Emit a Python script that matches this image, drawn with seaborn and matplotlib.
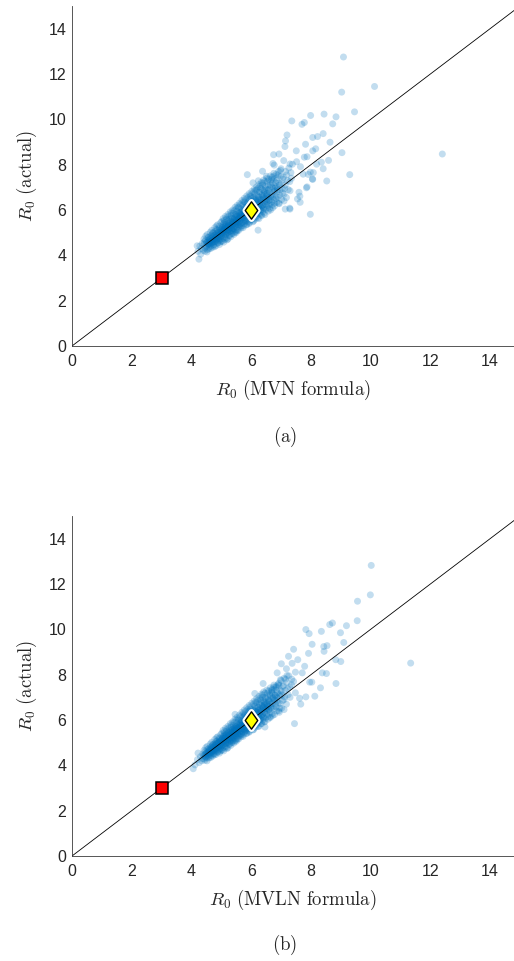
import numpy as np
import pandas as pd
import matplotlib.pyplot as plt
from matplotlib.path import Path
import seaborn as sns

sns.set_style("white")
plt.rcParams['font.family'] = ['Liberation Sans', 'DejaVu Sans']
plt.rcParams['mathtext.fontset'] = 'cm'

# ---- data ----------------------------------------------------------------
# (a) R0 from the MVN formula vs actual R0: dense core of the cloud
mvn_core = [
    (4.22, 4.18), (4.28, 4.41), (4.33, 4.30), (4.36, 4.52), (4.39, 4.22), (4.31, 4.05),
    (4.42, 4.48), (4.45, 4.31), (4.47, 4.66), (4.49, 4.40), (4.52, 4.58), (4.53, 4.25),
    (4.55, 4.79), (4.57, 4.47), (4.58, 4.62), (4.60, 4.36), (4.44, 4.60), (4.56, 4.52),
    (4.61, 4.70), (4.62, 4.50), (4.64, 4.85), (4.65, 4.41), (4.67, 4.63), (4.68, 4.76),
    (4.70, 4.55), (4.71, 4.98), (4.72, 4.68), (4.74, 4.45), (4.75, 4.82), (4.76, 4.60),
    (4.78, 4.72), (4.79, 5.05), (4.63, 4.58), (4.69, 4.90), (4.77, 4.38),
    (4.81, 4.80), (4.82, 4.62), (4.83, 4.95), (4.85, 4.71), (4.86, 5.12), (4.87, 4.54),
    (4.88, 4.88), (4.90, 4.77), (4.91, 5.02), (4.92, 4.66), (4.94, 5.20), (4.95, 4.90),
    (4.96, 4.58), (4.98, 5.08), (4.99, 4.83), (4.84, 5.30), (4.89, 4.99), (4.97, 4.72),
    (5.01, 5.15), (5.02, 4.86), (5.03, 4.99), (5.05, 5.32), (5.06, 4.74), (5.07, 5.08),
    (5.09, 4.93), (5.10, 5.45), (5.11, 5.21), (5.12, 4.80), (5.14, 5.03), (5.15, 5.28),
    (5.16, 4.95), (5.17, 5.58), (5.18, 5.12), (5.19, 4.68), (5.04, 5.22), (5.08, 5.11),
    (5.13, 5.36), (5.20, 5.00),
    (5.21, 5.25), (5.22, 4.98), (5.23, 5.42), (5.25, 5.13), (5.26, 5.60), (5.27, 4.86),
    (5.28, 5.31), (5.30, 5.05), (5.31, 5.50), (5.32, 5.20), (5.33, 5.75), (5.34, 4.95),
    (5.35, 5.38), (5.36, 5.16), (5.37, 5.63), (5.38, 5.29), (5.39, 5.08), (5.24, 5.34),
    (5.29, 5.22), (5.36, 5.47), (5.40, 5.85),
    (5.41, 5.48), (5.42, 5.15), (5.43, 5.66), (5.45, 5.33), (5.46, 5.02), (5.47, 5.80),
    (5.48, 5.41), (5.50, 5.58), (5.51, 5.24), (5.52, 5.95), (5.53, 5.50), (5.54, 5.10),
    (5.55, 5.70), (5.56, 5.36), (5.57, 5.62), (5.58, 6.10), (5.59, 5.28), (5.44, 5.55),
    (5.49, 5.72), (5.55, 5.45), (5.60, 5.85),
    (5.61, 5.70), (5.62, 5.35), (5.63, 5.92), (5.65, 5.55), (5.66, 5.20), (5.67, 6.05),
    (5.68, 5.63), (5.70, 5.80), (5.71, 5.45), (5.72, 6.22), (5.73, 5.72), (5.74, 5.30),
    (5.75, 5.95), (5.76, 5.58), (5.77, 5.85), (5.78, 6.35), (5.79, 5.50), (5.64, 5.78),
    (5.69, 5.95), (5.75, 5.65), (5.80, 6.08),
    (5.81, 5.90), (5.82, 5.52), (5.83, 6.15), (5.85, 5.75), (5.86, 5.36), (5.87, 6.30),
    (5.88, 5.85), (5.90, 6.02), (5.91, 5.62), (5.92, 6.45), (5.93, 5.95), (5.94, 5.45),
    (5.95, 6.20), (5.96, 5.78), (5.97, 6.08), (5.98, 6.60), (5.99, 5.70), (5.84, 6.00),
    (5.89, 6.18), (5.95, 5.88),
    (6.01, 6.12), (6.02, 5.70), (6.03, 6.38), (6.05, 5.92), (6.06, 5.48), (6.07, 6.55),
    (6.08, 6.05), (6.10, 6.25), (6.11, 5.80), (6.12, 6.72), (6.13, 6.15), (6.14, 5.60),
    (6.15, 6.42), (6.16, 5.98), (6.17, 6.30), (6.18, 6.88), (6.19, 5.88), (6.04, 6.22),
    (6.09, 6.45), (6.20, 6.10),
    (6.21, 6.35), (6.22, 5.85), (6.23, 6.60), (6.25, 6.12), (6.26, 5.62), (6.27, 6.78),
    (6.28, 6.28), (6.30, 6.48), (6.31, 6.00), (6.32, 6.95), (6.33, 6.38), (6.35, 5.75),
    (6.36, 6.65), (6.37, 6.20), (6.38, 7.10), (6.39, 6.52), (6.24, 6.45), (6.34, 6.10),
    (6.41, 6.58), (6.42, 6.05), (6.43, 6.85), (6.45, 6.35), (6.46, 5.80), (6.48, 7.05),
    (6.49, 6.50), (6.51, 6.72), (6.52, 6.20), (6.54, 7.25), (6.55, 6.62), (6.57, 5.95),
    (6.58, 6.90), (6.59, 6.42), (6.44, 6.68), (6.53, 6.48),
    (6.61, 6.80), (6.63, 6.25), (6.64, 7.10), (6.66, 6.55), (6.68, 7.35), (6.70, 6.70),
    (6.72, 6.10), (6.73, 6.95), (6.75, 7.50), (6.77, 6.45), (6.79, 6.85), (6.65, 6.00),
    (6.71, 7.20),
    (6.81, 7.05), (6.83, 6.50), (6.85, 7.30), (6.87, 6.80), (6.90, 7.55), (6.92, 6.30),
    (6.94, 7.10), (6.96, 6.65), (6.98, 7.75), (6.86, 7.00),
    (7.02, 7.20), (7.05, 6.75), (7.08, 7.45), (7.12, 6.95), (7.15, 7.70), (7.18, 6.55),
    (7.22, 7.30), (7.26, 7.85), (7.30, 6.85), (7.35, 7.40),
]
# (a) further core points where the cloud is saturated
mvn_core_dense = [
    (4.50, 4.55), (4.53, 4.44), (4.56, 4.66), (4.58, 4.52), (4.61, 4.60), (4.63, 4.74),
    (4.66, 4.54), (4.68, 4.66), (4.70, 4.82), (4.72, 4.58), (4.74, 4.70), (4.76, 4.88),
    (4.78, 4.62), (4.80, 4.76), (4.82, 4.90), (4.84, 4.70), (4.86, 4.84), (4.88, 5.02),
    (4.90, 4.72), (4.92, 4.86), (4.94, 5.00), (4.96, 4.80), (4.98, 4.96), (4.99, 5.14),
    (5.01, 4.90), (5.02, 5.06), (5.04, 5.24), (5.05, 4.98), (5.07, 5.16), (5.08, 5.40),
    (5.10, 5.02), (5.11, 5.12), (5.13, 5.28), (5.14, 4.90), (5.16, 5.18), (5.17, 5.36),
    (5.19, 5.08), (5.20, 5.26), (5.22, 5.50), (5.23, 5.14), (5.25, 5.30), (5.26, 5.06),
    (5.28, 5.44), (5.29, 5.20), (5.31, 5.34), (5.32, 5.62), (5.34, 5.26), (5.35, 5.10),
    (5.37, 5.46), (5.38, 5.36), (5.40, 5.20), (5.41, 5.58), (5.43, 5.40), (5.44, 5.26),
    (5.46, 5.66), (5.47, 5.48), (5.49, 5.34), (5.50, 5.80),
    (5.51, 5.52), (5.52, 5.38), (5.54, 5.74), (5.55, 5.58), (5.57, 5.44), (5.58, 5.88),
    (5.60, 5.62), (5.61, 5.50), (5.63, 5.80), (5.64, 5.66), (5.66, 5.40), (5.67, 5.90),
    (5.69, 5.72), (5.70, 5.58), (5.72, 6.00), (5.73, 5.82), (5.75, 5.50), (5.76, 6.12),
    (5.78, 5.76), (5.79, 5.96), (5.81, 5.64), (5.82, 6.06), (5.84, 5.84), (5.85, 6.26),
    (5.87, 5.70), (5.88, 6.02), (5.90, 5.86), (5.91, 6.36), (5.93, 5.76), (5.94, 6.10),
    (5.96, 5.94), (5.97, 6.28), (5.99, 5.84), (6.00, 6.50),
    (6.01, 5.98), (6.02, 6.30), (6.04, 5.82), (6.05, 6.14), (6.07, 6.40), (6.08, 5.92),
    (6.10, 6.08), (6.11, 6.58), (6.13, 6.00), (6.14, 6.28), (6.16, 6.48), (6.17, 5.86),
    (6.19, 6.20), (6.20, 6.66), (6.22, 6.10), (6.23, 6.36), (6.25, 5.96), (6.26, 6.56),
    (6.28, 6.22), (6.29, 6.80), (6.31, 6.14), (6.32, 6.44), (6.34, 6.00), (6.35, 6.68),
    (6.37, 6.32), (6.38, 6.90), (6.40, 6.22), (6.41, 6.48), (6.43, 6.10), (6.44, 6.78),
    (6.46, 6.40), (6.47, 6.96), (6.49, 6.24), (6.50, 6.62),
    (6.52, 6.88), (6.53, 6.36), (6.55, 6.74), (6.57, 7.10), (6.58, 6.26), (6.60, 6.56),
    (6.62, 6.96), (6.63, 6.44), (6.65, 7.24), (6.67, 6.66), (6.69, 6.36), (6.70, 7.02),
    (6.72, 6.58), (6.74, 7.34), (6.76, 6.80), (6.78, 6.30), (6.80, 6.96), (6.82, 7.20),
    (6.84, 6.62), (6.86, 7.42), (6.88, 6.90), (6.90, 6.56), (6.93, 7.18), (6.96, 6.90),
    (6.99, 7.50),
    (7.03, 6.95), (7.06, 7.35), (7.10, 6.70), (7.14, 7.10), (7.19, 7.55), (7.24, 6.90),
    (7.29, 7.25), (7.33, 7.65),
]
# (a) points along the upper and lower rims of the core
mvn_core_edge = [
    (4.42, 4.72), (4.48, 4.85), (4.53, 4.92), (4.58, 4.80), (4.63, 5.02), (4.68, 5.10),
    (4.73, 5.00), (4.78, 5.22), (4.83, 5.15), (4.88, 5.35), (4.93, 5.28), (4.98, 5.45),
    (4.45, 4.18), (4.52, 4.15), (4.58, 4.28), (4.64, 4.30), (4.70, 4.35), (4.76, 4.48),
    (4.82, 4.42), (4.88, 4.55), (4.94, 4.48), (4.99, 4.62),
    (5.02, 5.50), (5.06, 5.62), (5.10, 5.55), (5.14, 5.72), (5.18, 5.66), (5.22, 5.80),
    (5.26, 5.74), (5.30, 5.92), (5.34, 5.86), (5.38, 6.00), (5.42, 5.96), (5.46, 6.12),
    (5.50, 6.05),
    (5.03, 4.62), (5.08, 4.58), (5.12, 4.70), (5.17, 4.76), (5.22, 4.72), (5.27, 4.88),
    (5.32, 4.82), (5.37, 4.96), (5.42, 4.92), (5.47, 5.06), (5.50, 5.00),
    (5.53, 6.20), (5.57, 6.14), (5.61, 6.30), (5.65, 6.25), (5.69, 6.42), (5.73, 6.36),
    (5.77, 6.52), (5.81, 6.46), (5.85, 6.62), (5.89, 6.55), (5.93, 6.72), (5.97, 6.66),
    (5.53, 5.14), (5.58, 5.10), (5.63, 5.24), (5.68, 5.30), (5.73, 5.22), (5.78, 5.40),
    (5.83, 5.34), (5.88, 5.48), (5.93, 5.40), (5.98, 5.56),
    (6.02, 6.82), (6.06, 6.76), (6.10, 6.92), (6.14, 6.86), (6.18, 7.02), (6.22, 6.96),
    (6.26, 7.12), (6.30, 7.05), (6.34, 7.22), (6.38, 7.18), (6.42, 7.32), (6.46, 7.26),
    (6.03, 5.58), (6.08, 5.52), (6.13, 5.68), (6.18, 5.74), (6.23, 5.66), (6.28, 5.84),
    (6.33, 5.78), (6.38, 5.92), (6.43, 5.86), (6.48, 6.02),
    (6.52, 7.40), (6.58, 7.36), (6.64, 7.50), (6.70, 7.44), (6.76, 7.62), (6.84, 7.58),
    (6.92, 7.70), (7.00, 7.82),
    (6.55, 6.10), (6.62, 6.06), (6.70, 6.22), (6.78, 6.18), (6.86, 6.34), (6.94, 6.28),
    (7.02, 6.46), (7.10, 6.40),
]
# (a) scattered points away from the core
mvn_sparse = [
    (9.09, 12.75), (10.13, 11.45), (9.03, 11.20), (9.46, 10.33), (8.44, 10.23),
    (8.84, 10.11), (7.99, 10.17), (7.36, 9.93), (7.78, 9.86), (7.70, 9.78),
    (8.73, 9.80), (7.20, 9.31), (7.15, 9.05), (7.13, 8.80), (7.82, 8.90),
    (8.06, 9.20), (8.22, 9.24), (8.41, 9.37), (8.64, 8.99), (7.51, 8.61),
    (8.06, 8.61), (9.04, 8.53), (12.40, 8.47), (6.75, 8.44), (6.93, 8.47),
    (7.78, 8.33), (7.09, 8.18), (7.30, 8.03), (7.52, 8.13), (8.59, 8.19),
    (6.77, 7.98), (8.19, 8.02), (8.41, 7.82), (7.65, 7.91), (9.30, 7.56),
    (5.87, 7.56), (8.08, 7.65), (7.91, 7.57), (8.06, 7.35), (8.53, 7.28),
    (7.85, 6.98), (7.60, 6.78), (7.64, 6.34), (7.30, 6.04), (7.14, 6.04),
    (7.98, 5.81), (6.23, 5.11), (4.25, 3.83), (4.19, 4.42), (6.73, 8.05),
    (7.38, 8.02), (7.87, 8.35), (8.35, 8.11), (7.98, 7.67), (7.74, 7.58),
    (8.05, 7.37), (7.87, 7.02), (7.63, 6.61), (7.55, 6.49), (7.29, 6.08),
    (6.38, 7.71), (6.51, 7.49), (6.06, 7.20), (6.24, 7.29), (8.16, 8.70),
]

# (b) R0 from the MVLN formula vs actual R0: dense core of the cloud
mvln_core = [
    (4.12, 4.02), (4.20, 4.25), (4.26, 4.12), (4.30, 4.38), (4.34, 4.20), (4.38, 4.50),
    (4.37, 4.30),
    (4.41, 4.42), (4.43, 4.28), (4.45, 4.60), (4.47, 4.38), (4.50, 4.52), (4.52, 4.33),
    (4.54, 4.70), (4.56, 4.48), (4.58, 4.60), (4.59, 4.40), (4.46, 4.50), (4.55, 4.56),
    (4.61, 4.66), (4.62, 4.48), (4.64, 4.80), (4.65, 4.42), (4.67, 4.60), (4.68, 4.72),
    (4.70, 4.55), (4.71, 4.90), (4.72, 4.66), (4.74, 4.50), (4.75, 4.80), (4.76, 4.62),
    (4.78, 4.72), (4.79, 4.98), (4.63, 4.58), (4.69, 4.85), (4.77, 4.46),
    (4.81, 4.80), (4.82, 4.64), (4.83, 4.94), (4.85, 4.72), (4.86, 5.08), (4.87, 4.58),
    (4.88, 4.88), (4.90, 4.78), (4.91, 5.00), (4.92, 4.68), (4.94, 5.16), (4.95, 4.90),
    (4.96, 4.62), (4.98, 5.05), (4.99, 4.84), (4.84, 5.22), (4.89, 4.98), (4.97, 4.74),
    (5.01, 5.12), (5.02, 4.88), (5.03, 5.00), (5.05, 5.28), (5.06, 4.78), (5.07, 5.08),
    (5.09, 4.94), (5.10, 5.38), (5.11, 5.20), (5.12, 4.84), (5.14, 5.04), (5.15, 5.26),
    (5.16, 4.96), (5.17, 5.50), (5.18, 5.12), (5.19, 4.74), (5.04, 5.20), (5.08, 5.10),
    (5.13, 5.32), (5.20, 5.02),
    (5.21, 5.24), (5.22, 5.00), (5.23, 5.40), (5.25, 5.14), (5.26, 5.55), (5.27, 4.92),
    (5.28, 5.30), (5.30, 5.06), (5.31, 5.48), (5.32, 5.20), (5.33, 5.68), (5.34, 5.00),
    (5.35, 5.36), (5.36, 5.16), (5.37, 5.58), (5.38, 5.28), (5.39, 5.10), (5.24, 5.33),
    (5.29, 5.22), (5.36, 5.45), (5.40, 5.76),
    (5.41, 5.46), (5.42, 5.18), (5.43, 5.62), (5.45, 5.33), (5.46, 5.08), (5.47, 5.74),
    (5.48, 5.40), (5.50, 5.56), (5.51, 5.26), (5.52, 5.88), (5.53, 5.50), (5.54, 5.16),
    (5.55, 5.66), (5.56, 5.36), (5.57, 5.60), (5.58, 6.00), (5.59, 5.30), (5.44, 5.52),
    (5.49, 5.68), (5.55, 5.45), (5.60, 5.80),
    (5.61, 5.68), (5.62, 5.38), (5.63, 5.88), (5.65, 5.55), (5.66, 5.26), (5.67, 5.98),
    (5.68, 5.62), (5.70, 5.78), (5.71, 5.47), (5.72, 6.12), (5.73, 5.70), (5.74, 5.36),
    (5.75, 5.92), (5.76, 5.58), (5.77, 5.82), (5.78, 6.24), (5.79, 5.52), (5.64, 5.76),
    (5.69, 5.92), (5.75, 5.64), (5.80, 6.04),
    (5.81, 5.88), (5.82, 5.55), (5.83, 6.10), (5.85, 5.75), (5.86, 5.42), (5.87, 6.22),
    (5.88, 5.84), (5.90, 6.00), (5.91, 5.64), (5.92, 6.36), (5.93, 5.94), (5.94, 5.50),
    (5.95, 6.16), (5.96, 5.78), (5.97, 6.06), (5.98, 6.48), (5.99, 5.72), (5.84, 5.98),
    (5.89, 6.14), (5.95, 5.88),
    (6.01, 6.10), (6.02, 5.74), (6.03, 6.34), (6.05, 5.94), (6.06, 5.56), (6.07, 6.48),
    (6.08, 6.04), (6.10, 6.22), (6.11, 5.82), (6.12, 6.62), (6.13, 6.14), (6.14, 5.68),
    (6.15, 6.38), (6.16, 5.98), (6.17, 6.28), (6.18, 6.76), (6.19, 5.90), (6.04, 6.20),
    (6.09, 6.42), (6.20, 6.08),
    (6.21, 6.34), (6.22, 5.90), (6.23, 6.56), (6.25, 6.12), (6.26, 5.72), (6.27, 6.72),
    (6.28, 6.28), (6.30, 6.46), (6.31, 6.04), (6.32, 6.88), (6.33, 6.38), (6.35, 5.84),
    (6.36, 6.62), (6.37, 6.22), (6.38, 7.00), (6.39, 6.50), (6.24, 6.44), (6.34, 6.12),
    (6.41, 6.56), (6.42, 6.10), (6.43, 6.80), (6.45, 6.36), (6.46, 5.92), (6.48, 7.00),
    (6.49, 6.50), (6.51, 6.70), (6.52, 6.24), (6.54, 7.18), (6.55, 6.62), (6.57, 6.04),
    (6.58, 6.88), (6.59, 6.44), (6.44, 6.66), (6.53, 6.48),
    (6.61, 6.80), (6.63, 6.32), (6.64, 7.08), (6.66, 6.58), (6.68, 7.30), (6.70, 6.72),
    (6.72, 6.20), (6.73, 6.96), (6.75, 7.45), (6.77, 6.50), (6.79, 6.88), (6.65, 6.12),
    (6.71, 7.18),
    (6.81, 7.08), (6.83, 6.58), (6.85, 7.32), (6.87, 6.84), (6.90, 7.56), (6.92, 6.40),
    (6.94, 7.14), (6.96, 6.72), (6.98, 7.78), (6.86, 7.02),
    (7.02, 7.26), (7.05, 6.85), (7.08, 7.52), (7.12, 7.02), (7.15, 7.80), (7.18, 6.70),
    (7.22, 7.38), (7.26, 7.95), (7.30, 7.00), (7.35, 7.55), (7.42, 7.70), (7.48, 7.20),
]
# (b) further core points where the cloud is saturated
mvln_core_dense = [
    (4.44, 4.46), (4.48, 4.36), (4.51, 4.56), (4.54, 4.44), (4.57, 4.64), (4.60, 4.52),
    (4.62, 4.70), (4.65, 4.56), (4.67, 4.76), (4.70, 4.62), (4.72, 4.80), (4.74, 4.66),
    (4.77, 4.86), (4.79, 4.70), (4.81, 4.92), (4.83, 4.76), (4.85, 4.96), (4.88, 4.80),
    (4.90, 5.00), (4.92, 4.84), (4.94, 5.06), (4.96, 4.90), (4.98, 5.10), (4.99, 4.82),
    (5.01, 5.00), (5.03, 5.16), (5.04, 4.92), (5.06, 5.22), (5.08, 5.04), (5.09, 5.30),
    (5.11, 5.08), (5.13, 5.20), (5.14, 4.98), (5.16, 5.34), (5.18, 5.14), (5.19, 5.40),
    (5.21, 5.10), (5.23, 5.28), (5.24, 5.46), (5.26, 5.18), (5.28, 5.36), (5.29, 5.08),
    (5.31, 5.52), (5.33, 5.26), (5.34, 5.42), (5.36, 5.22), (5.38, 5.58), (5.39, 5.34),
    (5.41, 5.50), (5.43, 5.26), (5.44, 5.64), (5.46, 5.42), (5.48, 5.56), (5.49, 5.32),
    (5.50, 5.72), (5.47, 5.60), (5.42, 5.38), (5.37, 5.46),
    (5.51, 5.50), (5.53, 5.64), (5.54, 5.40), (5.56, 5.78), (5.58, 5.56), (5.59, 5.70),
    (5.61, 5.48), (5.63, 5.86), (5.64, 5.62), (5.66, 5.76), (5.68, 5.52), (5.69, 5.94),
    (5.71, 5.70), (5.73, 5.84), (5.74, 5.60), (5.76, 6.04), (5.78, 5.78), (5.79, 5.92),
    (5.81, 5.68), (5.83, 6.12), (5.84, 5.86), (5.86, 6.00), (5.88, 5.76), (5.89, 6.22),
    (5.91, 5.92), (5.93, 6.08), (5.94, 5.82), (5.96, 6.30), (5.98, 6.00), (5.99, 6.16),
    (5.92, 6.40), (5.87, 5.62), (5.77, 6.18), (5.67, 5.40),
    (6.01, 5.96), (6.03, 6.22), (6.04, 6.08), (6.06, 6.40), (6.08, 5.90), (6.09, 6.18),
    (6.11, 6.30), (6.13, 6.02), (6.14, 6.50), (6.16, 6.14), (6.18, 6.34), (6.19, 6.04),
    (6.21, 6.58), (6.23, 6.24), (6.24, 6.42), (6.26, 6.10), (6.28, 6.68), (6.29, 6.32),
    (6.31, 6.50), (6.33, 6.18), (6.34, 6.76), (6.36, 6.40), (6.38, 6.58), (6.39, 6.26),
    (6.41, 6.86), (6.43, 6.48), (6.44, 6.66), (6.46, 6.32), (6.48, 6.94), (6.49, 6.56),
    (6.12, 5.84), (6.27, 5.98), (6.42, 6.14), (6.47, 6.76),
    (6.52, 6.74), (6.53, 6.40), (6.55, 7.02), (6.57, 6.60), (6.58, 6.84), (6.60, 6.46),
    (6.62, 7.12), (6.63, 6.70), (6.65, 6.92), (6.67, 6.52), (6.69, 7.22), (6.70, 6.80),
    (6.72, 7.00), (6.74, 6.60), (6.76, 7.34), (6.78, 6.90), (6.80, 7.10), (6.82, 6.70),
    (6.84, 7.44), (6.86, 6.98), (6.88, 7.20), (6.90, 6.76), (6.93, 7.52), (6.96, 7.06),
    (6.99, 7.30),
    (7.03, 7.10), (7.06, 7.48), (7.10, 6.90), (7.14, 7.30), (7.19, 7.66), (7.24, 7.12),
    (7.29, 7.46), (7.36, 7.80),
]
# (b) points along the upper and lower rims of the core
mvln_core_edge = [
    (4.42, 4.66), (4.48, 4.78), (4.53, 4.84), (4.58, 4.74), (4.63, 4.94), (4.68, 5.02),
    (4.73, 4.92), (4.78, 5.14), (4.83, 5.06), (4.88, 5.26), (4.93, 5.20), (4.98, 5.36),
    (4.45, 4.22), (4.52, 4.20), (4.58, 4.32), (4.64, 4.34), (4.70, 4.40), (4.76, 4.52),
    (4.82, 4.48), (4.88, 4.60), (4.94, 4.54), (4.99, 4.66),
    (5.02, 5.42), (5.06, 5.54), (5.10, 5.48), (5.14, 5.64), (5.18, 5.58), (5.22, 5.72),
    (5.26, 5.66), (5.30, 5.84), (5.34, 5.78), (5.38, 5.92), (5.42, 5.88), (5.46, 6.04),
    (5.50, 5.98),
    (5.03, 4.68), (5.08, 4.64), (5.12, 4.76), (5.17, 4.82), (5.22, 4.78), (5.27, 4.94),
    (5.32, 4.88), (5.37, 5.02), (5.42, 4.98), (5.47, 5.12), (5.50, 5.06),
    (5.53, 6.12), (5.57, 6.06), (5.61, 6.22), (5.65, 6.17), (5.69, 6.34), (5.73, 6.28),
    (5.77, 6.44), (5.81, 6.38), (5.85, 6.54), (5.89, 6.47), (5.93, 6.64), (5.97, 6.58),
    (5.53, 5.20), (5.58, 5.16), (5.63, 5.30), (5.68, 5.36), (5.73, 5.28), (5.78, 5.46),
    (5.83, 5.40), (5.88, 5.54), (5.93, 5.46), (5.98, 5.62),
    (6.02, 6.74), (6.06, 6.68), (6.10, 6.84), (6.14, 6.78), (6.18, 6.94), (6.22, 6.88),
    (6.26, 7.04), (6.30, 6.97), (6.34, 7.14), (6.38, 7.10), (6.42, 7.24), (6.46, 7.18),
    (6.03, 5.64), (6.08, 5.58), (6.13, 5.74), (6.18, 5.80), (6.23, 5.72), (6.28, 5.90),
    (6.33, 5.84), (6.38, 5.98), (6.43, 5.92), (6.48, 6.08),
    (6.52, 7.32), (6.58, 7.28), (6.64, 7.42), (6.70, 7.36), (6.76, 7.54), (6.84, 7.50),
    (6.92, 7.62), (7.00, 7.74), (7.10, 7.84), (7.20, 7.96),
    (6.55, 6.16), (6.62, 6.12), (6.70, 6.28), (6.78, 6.24), (6.86, 6.40), (6.94, 6.34),
    (7.02, 6.52), (7.10, 6.46),
]
# (b) scattered points away from the core
mvln_sparse = [
    (10.02, 12.82), (9.99, 11.52), (9.56, 11.24), (9.55, 10.38), (8.72, 10.28),
    (8.63, 10.21), (7.83, 9.99), (7.94, 9.81), (8.35, 9.91), (9.19, 10.16),
    (8.99, 9.85), (8.04, 9.34), (9.10, 9.42), (8.54, 9.28), (8.43, 9.24),
    (8.44, 9.03), (7.42, 9.12), (7.92, 8.94), (7.25, 8.81), (7.56, 8.66),
    (7.01, 8.48), (7.37, 8.50), (8.83, 8.66), (9.00, 8.58), (11.34, 8.51),
    (7.79, 8.37), (7.18, 8.26), (7.48, 8.11), (7.71, 8.08), (8.38, 8.08),
    (8.52, 8.05), (6.87, 8.08), (8.84, 7.61), (8.32, 7.42), (8.03, 7.67),
    (7.83, 7.02), (7.66, 6.70), (7.45, 5.84), (6.40, 7.61), (6.12, 7.17),
    (5.46, 6.25), (6.46, 5.69), (4.06, 3.85), (4.22, 4.54), (7.62, 6.96),
    (8.13, 7.05), (7.96, 7.67), (6.96, 6.52),
]

identity_line = [0, 15]
baseline_point = (3, 3)    # red square
mean_point = (6, 6)        # yellow diamond

xticks = [0, 2, 4, 6, 8, 10, 12, 14]
yticks = [0, 2, 4, 6, 8, 10, 12, 14]

panels = [
    (mvn_core + mvn_core_dense + mvn_core_edge + mvn_sparse,
     r'$R_0\ \mathrm{(MVN\ formula)}$', r'$\mathrm{(a)}$'),
    (mvln_core + mvln_core_dense + mvln_core_edge + mvln_sparse,
     r'$R_0\ \mathrm{(MVLN\ formula)}$', r'$\mathrm{(b)}$'),
]

# ---- figure ----------------------------------------------------------------
W, H = 514, 961
fig = plt.figure(figsize=(W / 100, H / 100), dpi=100)
axes = [
    fig.add_axes([72 / W, 1 - 346 / H, 442 / W, 340 / H]),
    fig.add_axes([72 / W, 1 - 856 / H, 442 / W, 340 / H]),
]
caption_y = [1 - 437 / H, 1 - 945 / H]

diamond = Path([(0, 1), (0.72, 0), (0, -1), (-0.72, 0), (0, 1)],
               [Path.MOVETO, Path.LINETO, Path.LINETO, Path.LINETO, Path.CLOSEPOLY])

axis_col = '#3a3a3a'
for ax, (pts, xlabel, caption), cy in zip(axes, panels, caption_y):
    df = pd.DataFrame(pts, columns=['formula', 'actual'])
    sns.scatterplot(data=df, x='formula', y='actual', ax=ax, color='#0072BD',
                    alpha=0.24, s=25, edgecolor='none', linewidth=0, zorder=1)
    ax.plot(identity_line, identity_line, color='black', lw=0.6, zorder=2)
    ax.plot(*baseline_point, marker='s', ms=8.6, mfc='red', mec='black', mew=1.1,
            zorder=3)
    ax.plot(*mean_point, marker=diamond, ms=12.5, mfc='white', mec='white', mew=4,
            zorder=3)
    ax.plot(*mean_point, marker=diamond, ms=12.5, mfc='yellow', mec='black', mew=1.0,
            zorder=4)

    ax.set_xlim(0, 14.8)
    ax.set_ylim(0, 15)
    ax.set_xticks(xticks)
    ax.set_yticks(yticks)
    for side in ['top', 'right']:
        ax.spines[side].set_visible(False)
    for side in ['left', 'bottom']:
        ax.spines[side].set_color(axis_col)
        ax.spines[side].set_linewidth(0.6)
    ax.tick_params(direction='in', length=4, width=0.6, colors=axis_col,
                   labelcolor='#262626', labelsize=11.5)
    ax.tick_params(axis='x', pad=6)
    ax.tick_params(axis='y', pad=4)
    ax.set_xlabel(xlabel, fontsize=13.5, labelpad=6, color='#262626')
    ax.set_ylabel(r'$R_0\ \mathrm{(actual)}$', fontsize=13.5, labelpad=7,
                  color='#262626')
    ax.patch.set_alpha(0)
    fig.text(285 / W, cy, caption, ha='center', va='center', fontsize=13.5)

fig.savefig('out.png', dpi=100)
